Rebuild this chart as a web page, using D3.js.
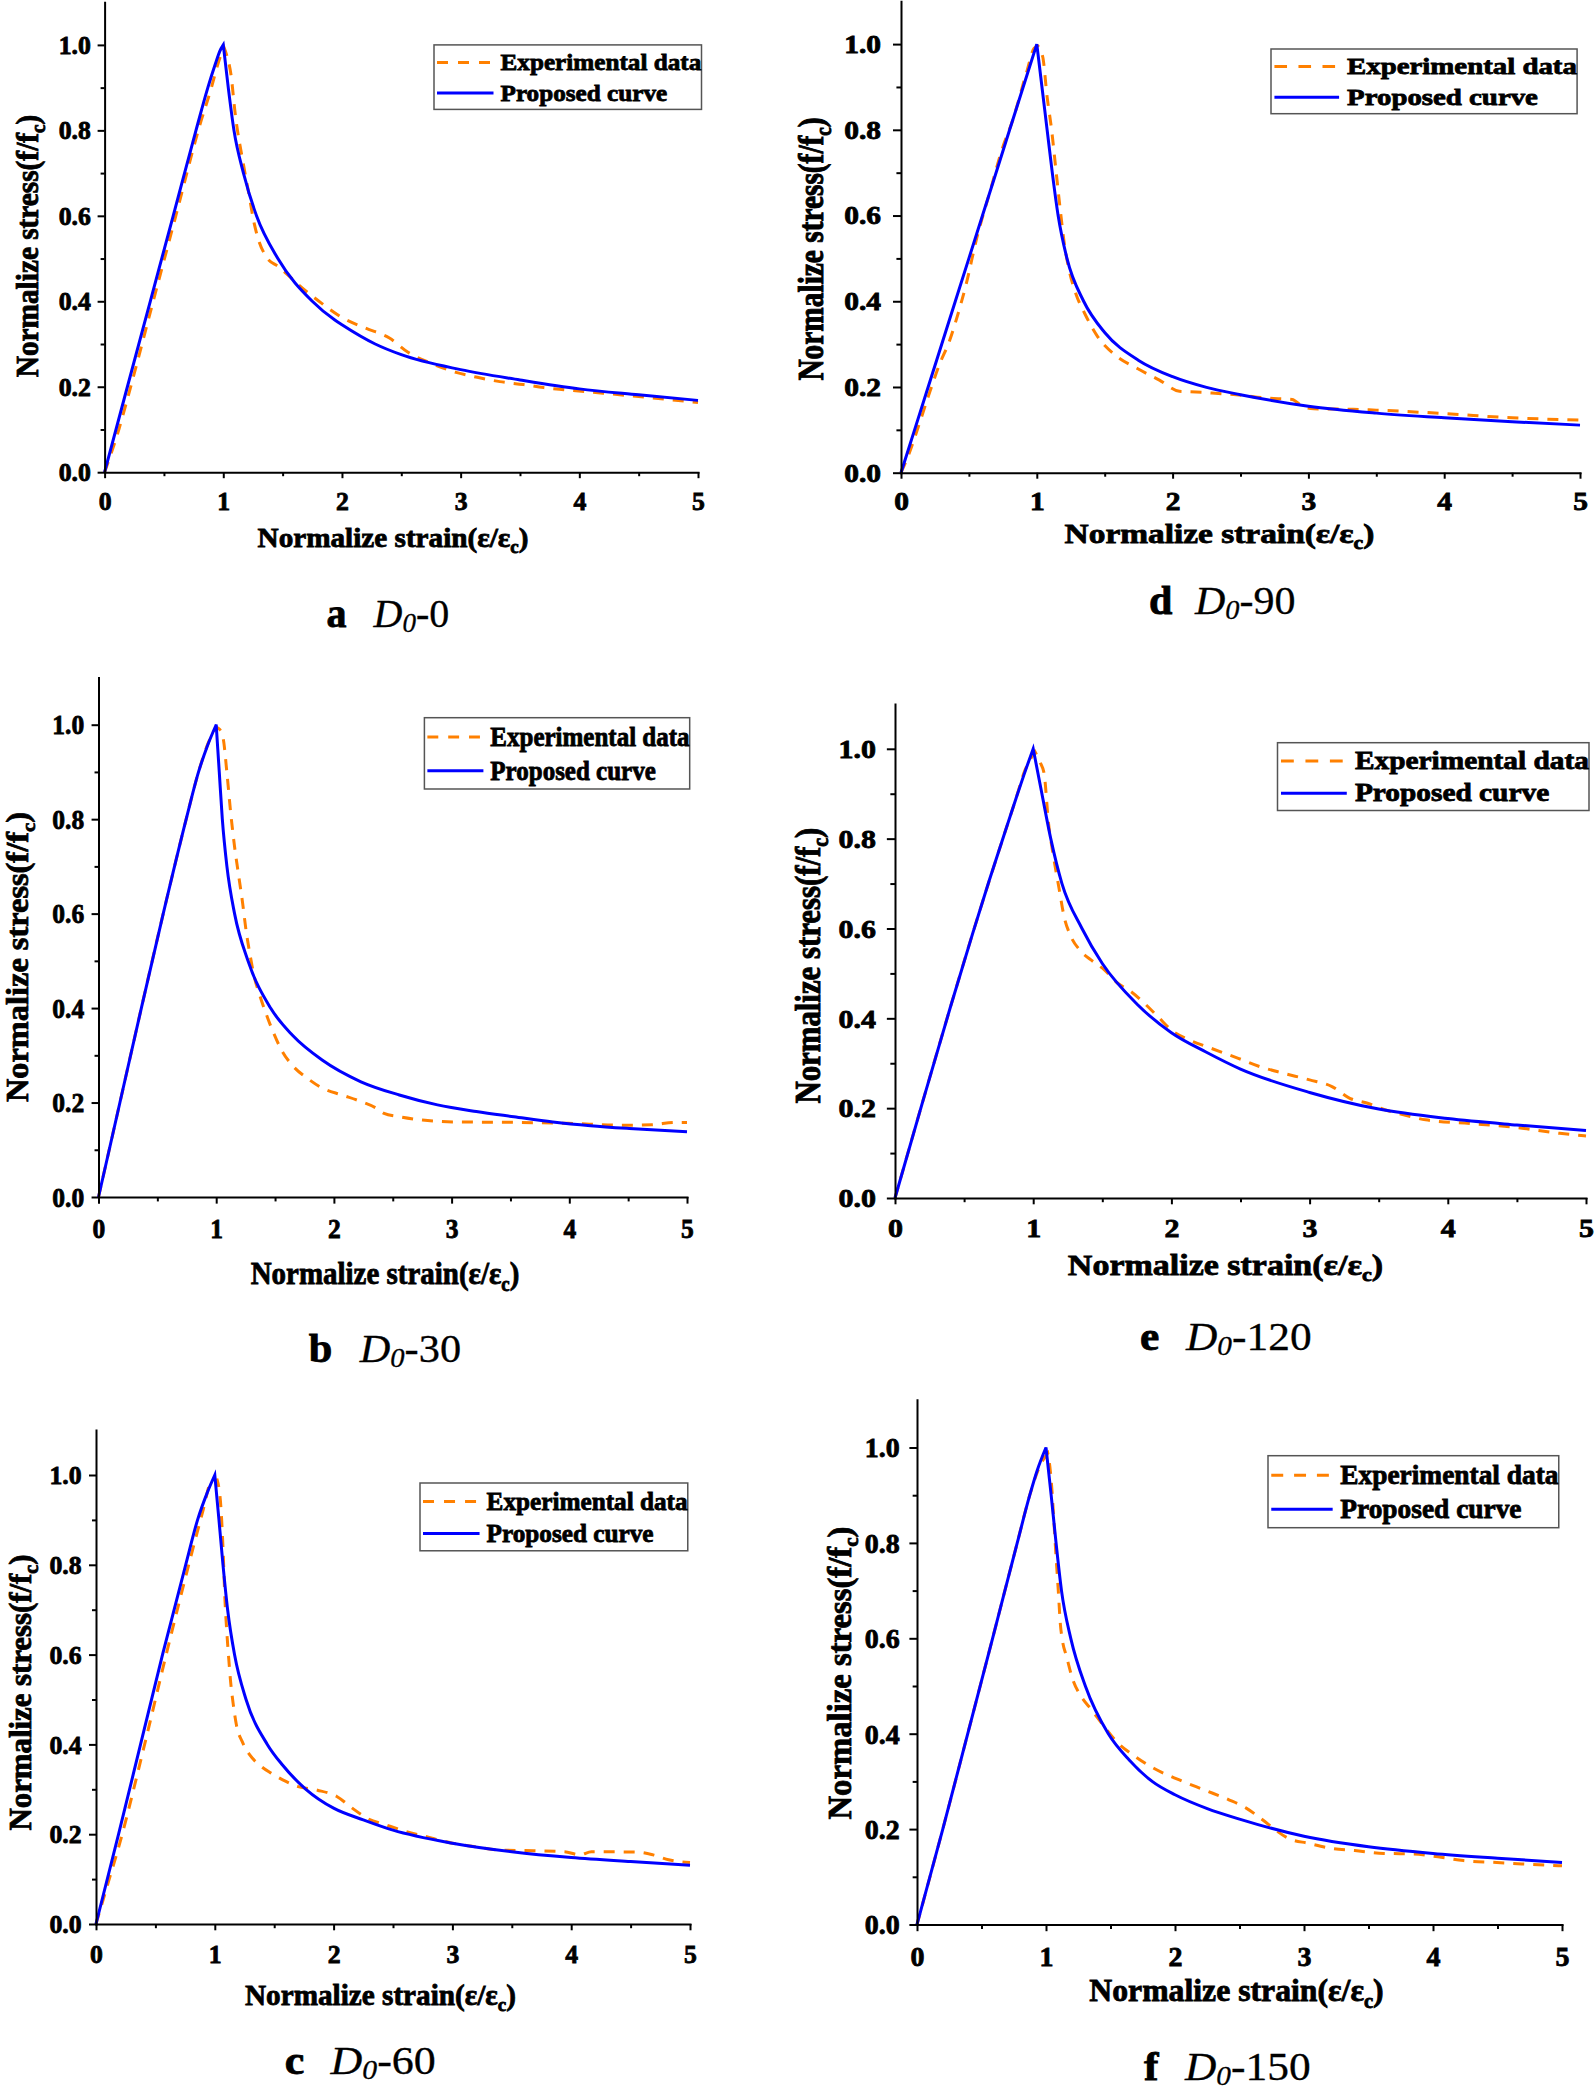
<!DOCTYPE html>
<html><head><meta charset="utf-8">
<script src="https://cdn.jsdelivr.net/npm/d3@7"></script>
<style>body{margin:0;background:#fff}svg{display:block}</style>
</head><body>
<svg id="c" width="1594" height="2095"></svg>
<script>
// ---------- DATA ----------
const xTicks = [0, 1, 2, 3, 4, 5];
const xMinor = [0.5, 1.5, 2.5, 3.5, 4.5];
const yTicks = [0, 0.2, 0.4, 0.6, 0.8, 1.0];
const yMinor = [0.1, 0.3, 0.5, 0.7, 0.9];
const legendLabels = ["Experimental data", "Proposed curve"];
const panelLetters = ["a", "d", "b", "e", "c", "f"];
const panelNumbers = ["0", "90", "30", "120", "60", "150"];

// D0-0
const propA = [[0,0],[0.192,0.2],[0.385,0.4],[0.578,0.6],[0.77,0.8],[0.87,0.9],[0.935,0.957],[0.97,0.985],[1,1],[1.042,0.9],[1.09,0.8],[1.17,0.7],[1.28,0.6],[1.46,0.5],[1.75,0.4],[1.94,0.356],[2.0,0.345],[2.28,0.3],[2.5,0.275],[3.0,0.24],[3.5,0.216],[4.0,0.195],[4.5,0.181],[5.0,0.168]];
const expA = [[0,0],[0.12,0.1],[0.21,0.19],[0.4,0.39],[0.6,0.6],[0.8,0.81],[0.9,0.9],[0.96,0.96],[1.005,0.995],[1.03,0.975],[1.065,0.93],[1.1,0.84],[1.17,0.72],[1.21,0.66],[1.26,0.583],[1.29,0.55],[1.36,0.505],[1.47,0.48],[1.55,0.46],[1.62,0.442],[1.83,0.395],[2.0,0.362],[2.2,0.337],[2.4,0.314],[2.56,0.28],[2.75,0.255],[2.97,0.233],[3.14,0.222],[3.33,0.212],[3.53,0.205],[3.7,0.198],[3.87,0.193],[4.2,0.185],[4.5,0.177],[5.0,0.163]];
// D0-90
const propD = [[0,0],[0.2,0.2],[0.4,0.4],[0.6,0.6],[0.8,0.8],[1,1],[1.038,0.9],[1.076,0.8],[1.114,0.7],[1.157,0.6],[1.222,0.5],[1.345,0.4],[1.5,0.327],[1.75,0.262],[2.0,0.224],[2.25,0.199],[2.5,0.182],[3.0,0.155],[3.5,0.139],[4.0,0.128],[4.5,0.119],[5.0,0.111]];
const expD = [[0,0],[0.06,0.045],[0.12,0.1],[0.2,0.177],[0.28,0.25],[0.36,0.31],[0.41,0.36],[0.48,0.44],[0.56,0.55],[0.65,0.65],[0.75,0.76],[0.82,0.82],[0.93,0.94],[0.98,0.99],[1.01,0.995],[1.044,0.97],[1.076,0.877],[1.109,0.8],[1.141,0.706],[1.173,0.613],[1.206,0.527],[1.238,0.473],[1.287,0.418],[1.352,0.372],[1.449,0.317],[1.579,0.274],[1.741,0.243],[1.903,0.216],[2.05,0.19],[2.12,0.189],[2.29,0.186],[2.49,0.181],[2.7,0.174],[2.88,0.171],[2.96,0.154],[3.04,0.149],[3.33,0.148],[3.5,0.146],[4.0,0.138],[4.5,0.128],[5.0,0.123]];
// D0-30
const propB = [[0,0],[0.182,0.2],[0.364,0.4],[0.55,0.6],[0.745,0.8],[0.85,0.9],[0.925,0.955],[1,1],[1.026,0.9],[1.052,0.8],[1.091,0.7],[1.156,0.6],[1.27,0.5],[1.462,0.4],[1.646,0.343],[1.9,0.29],[2.23,0.244],[2.556,0.216],[2.88,0.195],[3.21,0.181],[3.53,0.17],[3.86,0.159],[4.18,0.151],[4.51,0.145],[5.0,0.138]];
const expB = [[0,0],[0.182,0.2],[0.364,0.4],[0.55,0.6],[0.745,0.8],[0.85,0.9],[0.93,0.96],[1.0,0.995],[1.03,0.99],[1.06,0.97],[1.093,0.893],[1.125,0.809],[1.158,0.738],[1.19,0.682],[1.223,0.625],[1.255,0.562],[1.288,0.512],[1.32,0.47],[1.369,0.428],[1.418,0.392],[1.483,0.35],[1.564,0.307],[1.646,0.279],[1.776,0.251],[1.906,0.23],[2.068,0.216],[2.231,0.202],[2.361,0.188],[2.426,0.177],[2.556,0.17],[2.751,0.163],[3.01,0.159],[3.53,0.158],[3.99,0.156],[4.44,0.152],[4.7,0.153],[4.9,0.158],[5.0,0.158]];
// D0-120
const propE = [[0,0],[0.2,0.214],[0.4,0.424],[0.56,0.587],[0.68,0.705],[0.772,0.792],[0.875,0.889],[0.933,0.942],[1,1],[1.063,0.9],[1.127,0.8],[1.208,0.7],[1.353,0.6],[1.5,0.522],[1.75,0.432],[2.0,0.368],[2.25,0.325],[2.5,0.287],[3.0,0.235],[3.5,0.198],[4.0,0.177],[4.5,0.1625],[5.0,0.15]];
const expE = [[0,0],[0.2,0.214],[0.4,0.424],[0.56,0.587],[0.772,0.792],[0.875,0.889],[0.94,0.952],[1.014,0.993],[1.05,0.97],[1.079,0.945],[1.111,0.834],[1.143,0.767],[1.185,0.693],[1.224,0.626],[1.273,0.582],[1.337,0.552],[1.418,0.53],[1.515,0.508],[1.612,0.478],[1.709,0.459],[1.806,0.433],[1.902,0.404],[1.999,0.374],[2.129,0.352],[2.29,0.333],[2.484,0.311],[2.645,0.292],[2.807,0.278],[3.0,0.263],[3.162,0.248],[3.291,0.222],[3.42,0.211],[3.55,0.196],[3.68,0.185],[3.84,0.174],[4.16,0.166],[4.49,0.157],[4.81,0.144],[5.0,0.138]];
// D0-60
const propC = [[0,0],[0.19,0.2],[0.375,0.4],[0.56,0.6],[0.755,0.8],[0.855,0.9],[0.94,0.963],[1,1],[1.035,0.9],[1.069,0.8],[1.108,0.7],[1.166,0.6],[1.263,0.5],[1.442,0.4],[1.57,0.354],[1.767,0.3],[2.0,0.258],[2.25,0.232],[2.5,0.209],[3.0,0.18],[3.5,0.161],[4.0,0.148],[4.5,0.139],[5.0,0.131]];
const expC = [[0,0],[0.1,0.09],[0.2,0.18],[0.4,0.39],[0.6,0.61],[0.8,0.82],[0.9,0.92],[0.97,0.985],[1.02,0.989],[1.052,0.926],[1.069,0.837],[1.085,0.725],[1.101,0.651],[1.117,0.592],[1.133,0.54],[1.156,0.488],[1.182,0.443],[1.231,0.406],[1.296,0.376],[1.377,0.354],[1.474,0.336],[1.572,0.321],[1.702,0.306],[1.864,0.298],[2.027,0.284],[2.157,0.258],[2.286,0.235],[2.449,0.22],[2.611,0.206],[2.774,0.195],[3.0,0.18],[3.196,0.172],[3.391,0.165],[3.683,0.163],[3.943,0.161],[4.073,0.154],[4.17,0.161],[4.56,0.16],[4.69,0.154],[4.82,0.143],[5.0,0.137]];
// D0-150
const propF = [[0,0],[0.2,0.2],[0.398,0.405],[0.586,0.6],[0.777,0.8],[0.874,0.9],[0.933,0.953],[1,1],[1.04,0.9],[1.078,0.8],[1.12,0.7],[1.192,0.6],[1.305,0.5],[1.483,0.4],[1.645,0.345],[1.823,0.3],[2.0,0.272],[2.25,0.243],[2.5,0.221],[3.0,0.185],[3.5,0.163],[4.0,0.149],[4.5,0.139],[5.0,0.13]];
const expF = [[0,0],[0.2,0.2],[0.398,0.405],[0.586,0.6],[0.777,0.8],[0.874,0.9],[0.95,0.96],[1.014,0.988],[1.03,0.96],[1.046,0.911],[1.062,0.841],[1.078,0.771],[1.095,0.701],[1.111,0.631],[1.127,0.596],[1.159,0.562],[1.208,0.513],[1.273,0.478],[1.354,0.45],[1.451,0.415],[1.548,0.383],[1.677,0.355],[1.839,0.327],[2.034,0.303],[2.228,0.282],[2.422,0.261],[2.552,0.244],[2.681,0.219],[2.779,0.198],[2.876,0.181],[3.038,0.17],[3.2,0.16],[3.394,0.155],[3.62,0.149],[3.847,0.148],[4.04,0.142],[4.236,0.134],[4.495,0.13],[4.689,0.127],[5.0,0.123]];

const expSeries  = [expA, expD, expB, expE, expC, expF];
const propSeries = [propA, propD, propB, propE, propC, propF];

// ---------- LAYOUT ----------
const layouts = [
 {x0:104.6,x5:698, y0:472.2, y1:44.9, leg:[434,44.9],    cap:[326.5,627],  capD:373.5, capHx:1.0,  xt:[393,547],    yt:[38,246],    gap:13.8},
 {x0:901,  x5:1580,y0:472.7, y1:44.1, leg:[1271,49],     cap:[1149,614],   capD:1195,  capHx:1.05, xt:[1219.5,543], yt:[823,249],   gap:20},
 {x0:98.5, x5:687, y0:1197,  y1:724.7,leg:[424.4,717.7], cap:[308.7,1362], capD:359.7, capHx:1.06, xt:[385,1284],   yt:[28,957],    gap:14.3},
 {x0:895,  x5:1586,y0:1198,  y1:748.8,leg:[1277.5,742.7],cap:[1140,1349.7],capD:1186,  capHx:1.086,xt:[1225.5,1275],yt:[820,965.6], gap:19},
 {x0:96,   x5:690, y0:1924,  y1:1475, leg:[420,1483],    cap:[284.7,2073.8],capD:330.6,capHx:1.1,  xt:[380.5,2005], yt:[31,1692.5], gap:14.4},
 {x0:917,  x5:1562,y0:1924.5,y1:1447.5,leg:[1268,1455.7],cap:[1144,2080],  capD:1185,  capHx:1.086,xt:[1236.5,2001],yt:[851,1673],  gap:17.3}
];
const FONT = '"Liberation Serif","Times New Roman",Times,serif';
const ORANGE = "#ff8000", BLUE = "#0000ff";
const TXT_STROKE = 0.8;

const svg = d3.select("#c");
svg.append("rect").attr("width",1594).attr("height",2095).attr("fill","#fff");

function heavy(sel){ return sel.attr("stroke","#000").attr("stroke-width",TXT_STROKE).attr("paint-order","stroke"); }

function titleText(sel, main, sub, tail, fs){
  const sh = 0.22*fs;
  sel.append("tspan").text(main);
  sel.append("tspan").attr("font-size", fs*0.65).attr("dy", sh).text(sub);
  sel.append("tspan").attr("dy", -sh).text(tail);
}

layouts.forEach((L, i) => {
  const kx = (L.x5 - L.x0) / 593.4;
  const ky = (L.y0 - L.y1) / 427.3;
  const hx = 1.05 * kx / ky;
  const x = d3.scaleLinear().domain([0,5]).range([L.x0, L.x5]);
  const y = d3.scaleLinear().domain([0,1.1]).range([L.y0, L.y0 - 1.1*(L.y0 - L.y1)]);
  const g = svg.append("g").attr("font-family", FONT).attr("color","#000");

  // curves: split at peak so the peak stays sharp
  const line = d3.line().x(d=>x(d[0])).y(d=>y(d[1])).curve(d3.curveMonotoneX);
  function pathFor(data){
    const idx = d3.maxIndex(data, d=>d[1]);
    return line(data.slice(0, idx+1)) + line(data.slice(idx)).replace(/^M/, "L");
  }
  g.append("path").attr("d", pathFor(expSeries[i])).attr("fill","none")
    .attr("stroke", ORANGE).attr("stroke-width", 3).attr("stroke-dasharray", "11,9");
  g.append("path").attr("d", pathFor(propSeries[i])).attr("fill","none")
    .attr("stroke", BLUE).attr("stroke-width", 3);

  // minor ticks
  g.append("g").attr("transform", `translate(${L.x0},0)`)
    .call(d3.axisLeft(y).tickValues(yMinor).tickSize(4*kx).tickSizeOuter(0).tickFormat(""))
    .call(s=>{s.select(".domain").remove(); s.selectAll(".tick line").attr("stroke-width",2);});
  g.append("g").attr("transform", `translate(0,${L.y0})`)
    .call(d3.axisBottom(x).tickValues(xMinor).tickSize(4*ky).tickSizeOuter(0).tickFormat(""))
    .call(s=>{s.select(".domain").remove(); s.selectAll(".tick line").attr("stroke-width",2);});

  // major y axis
  const gy = g.append("g").attr("transform", `translate(${L.x0},0)`)
    .call(d3.axisLeft(y).tickValues(yTicks).tickSize(7*kx).tickSizeOuter(0).tickFormat(d3.format(".1f")));
  gy.select(".domain").attr("stroke-width",2).attr("stroke-linecap","square");
  gy.selectAll(".tick line").attr("stroke-width",2);
  gy.selectAll(".tick text").attr("x", -L.gap/hx).attr("transform", `scale(${hx},1)`)
    .attr("font-size", 24.5*ky).attr("font-weight","bold").attr("font-family", FONT).attr("dy","0.34em")
    .call(heavy);

  // major x axis
  const gx = g.append("g").attr("transform", `translate(0,${L.y0})`)
    .call(d3.axisBottom(x).tickValues(xTicks).tickSize(6*ky).tickSizeOuter(0).tickPadding(14*ky).tickFormat(d3.format("d")));
  gx.select(".domain").attr("stroke-width",2).attr("stroke-linecap","square");
  gx.selectAll(".tick line").attr("stroke-width",2);
  gx.selectAll(".tick text").attr("transform", `scale(${hx},1)`)
    .attr("font-size", 24.5*ky).attr("font-weight","bold").attr("font-family", FONT)
    .call(heavy);

  // axis titles
  const fsx = 27.8*ky;
  g.append("text").attr("transform", `translate(${L.xt[0]},${L.xt[1]}) scale(${hx},1)`)
    .attr("text-anchor","middle").attr("font-size", fsx).attr("font-weight","bold")
    .call(heavy)
    .call(t=>titleText(t, "Normalize strain(\u03b5/\u03b5", "c", ")", fsx));
  const fsy = 29.3*ky;
  g.append("text").attr("transform", `translate(${L.yt[0]},${L.yt[1]}) scale(${hx},1) rotate(-90)`)
    .attr("text-anchor","middle").attr("font-size", fsy).attr("font-weight","bold")
    .call(heavy)
    .call(t=>titleText(t, "Normalize stress(f/f", "c", ")", fsy));

  // legend
  const lg = g.append("g").attr("transform", `translate(${L.leg[0]},${L.leg[1]})`);
  lg.append("rect").attr("width", 267.5*kx).attr("height", 64.5*ky)
    .attr("fill","#fff").attr("stroke","#555").attr("stroke-width",1.5);
  legendLabels.forEach((lab, j) => {
    const ry = (j === 0 ? 17.5 : 48) * ky;
    const ln = lg.append("line").attr("x1", 3*kx).attr("x2", 59.5*kx).attr("y1", ry).attr("y2", ry)
      .attr("stroke", j === 0 ? ORANGE : BLUE).attr("stroke-width", 3);
    if (j === 0) ln.attr("stroke-dasharray", `${11*kx},${10*kx}`);
    lg.append("text").attr("transform", `translate(${66.5*kx},${ry}) scale(${hx},1)`)
      .attr("dy","0.33em").attr("font-size", 24*ky).attr("font-weight","bold").call(heavy).text(lab);
  });

  // caption
  svg.append("text").attr("font-family", FONT)
    .attr("transform", `translate(${L.cap[0]},${L.cap[1]}) scale(${L.capHx},1)`)
    .attr("font-size", 40).attr("font-weight","bold").call(heavy).text(panelLetters[i]);
  const ct = svg.append("text").attr("font-family", FONT)
    .attr("transform", `translate(${L.capD},${L.cap[1]}) scale(${L.capHx},1)`).attr("font-size", 40)
    .attr("stroke","#000").attr("stroke-width",0.3);
  ct.append("tspan").attr("font-style","italic").text("D");
  ct.append("tspan").attr("font-style","italic").attr("font-size", 27).attr("dy", 5).text("0");
  ct.append("tspan").attr("dy", -5).text("-" + panelNumbers[i]);
});
</script>
</body></html>
